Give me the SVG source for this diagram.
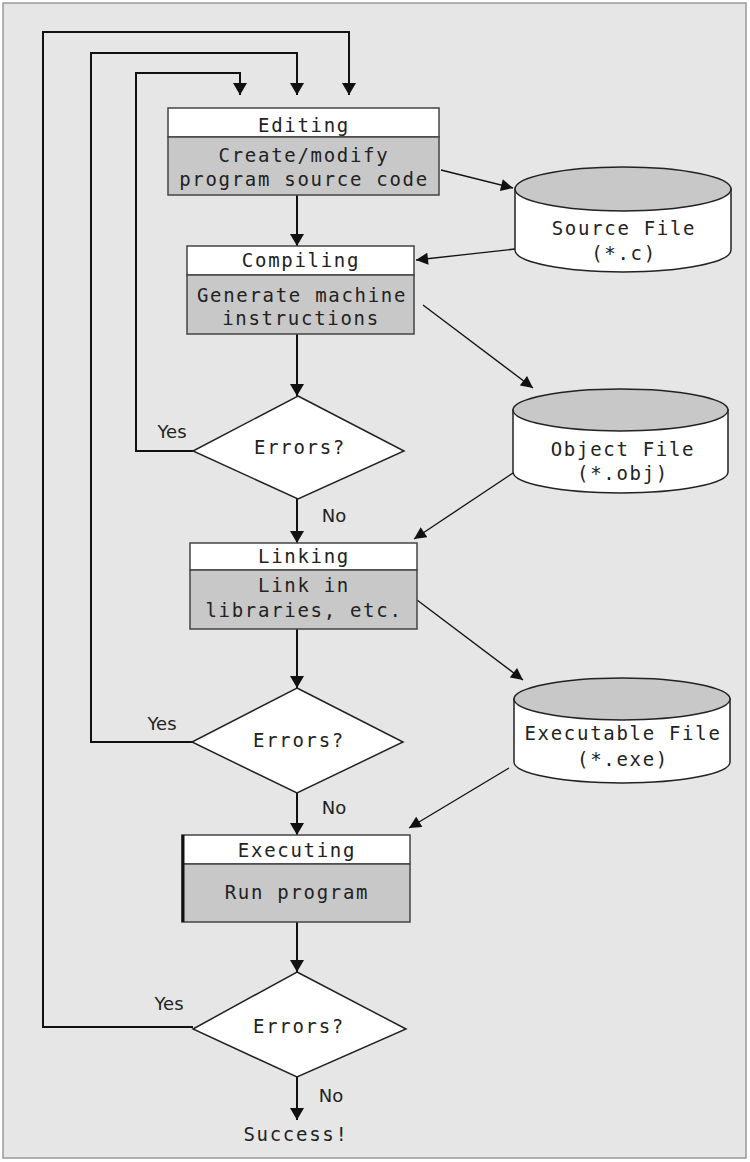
<svg xmlns="http://www.w3.org/2000/svg" width="750" height="1162" viewBox="0 0 750 1162">
<style>
.t{font-family:"DejaVu Sans Mono","Liberation Mono",monospace;font-size:19px;fill:#222;text-anchor:middle;letter-spacing:1.7px}
.lb{font-family:"DejaVu Sans","Liberation Sans",sans-serif;font-size:18px;fill:#222;text-anchor:middle}
.hd{fill:#fff;stroke:#444;stroke-width:1.5}
.bd{fill:#c8c8c8;stroke:#444;stroke-width:1.5}
.dm{fill:#fff;stroke:#222;stroke-width:1.5}
.cb{fill:#fff;stroke:#222;stroke-width:1.5}
.ct{fill:#c8c8c8;stroke:#222;stroke-width:1.5}
.fl{fill:none;stroke:#111;stroke-width:2}
.dg{fill:none;stroke:#111;stroke-width:1.3}
</style>
<defs>
<marker id="ah" viewBox="0 0 12 14" refX="12" refY="7" markerWidth="12" markerHeight="14" markerUnits="userSpaceOnUse" orient="auto"><path d="M0,0 L12,7 L0,14 z" fill="#111"/></marker>
<marker id="as" viewBox="0 0 12 12" refX="12" refY="6" markerWidth="13" markerHeight="12" markerUnits="userSpaceOnUse" orient="auto"><path d="M0,0 L12,6 L0,12 z" fill="#111"/></marker>
</defs>
<rect x="3" y="3" width="743" height="1155" fill="#e6e6e6" stroke="#999" stroke-width="1.5"/>

<g id="connectors">
<path class="fl" d="M193,1027 H43 V32 H349 V95" marker-end="url(#ah)"/>
<path class="fl" d="M192,742 H91 V53 H297 V95" marker-end="url(#ah)"/>
<path class="fl" d="M193,451 H136 V73 H240 V95" marker-end="url(#ah)"/>
<path class="fl" d="M297,195 V246" marker-end="url(#ah)"/>
<path class="fl" d="M297,334 V396" marker-end="url(#ah)"/>
<path class="fl" d="M297,499 V543" marker-end="url(#ah)"/>
<path class="fl" d="M297,629 V688" marker-end="url(#ah)"/>
<path class="fl" d="M297,793 V835" marker-end="url(#ah)"/>
<path class="fl" d="M297,922 V972" marker-end="url(#ah)"/>
<path class="fl" d="M297,1077 V1120" marker-end="url(#ah)"/>
<path class="dg" d="M441,170 L513,188" marker-end="url(#as)"/>
<path class="dg" d="M515,249 L416,260" marker-end="url(#as)"/>
<path class="dg" d="M423,305 L533,388" marker-end="url(#as)"/>
<path class="dg" d="M513,473 L414,539" marker-end="url(#as)"/>
<path class="dg" d="M417,600 L523,680" marker-end="url(#as)"/>
<path class="dg" d="M509,768 L409,828" marker-end="url(#as)"/>
<text class="lb" x="172" y="438">Yes</text>
<text class="lb" x="334" y="522">No</text>
<text class="lb" x="162" y="730">Yes</text>
<text class="lb" x="334" y="814">No</text>
<text class="lb" x="169" y="1010">Yes</text>
<text class="lb" x="331" y="1102">No</text>
</g>

<g id="editing">
<rect class="hd" x="168" y="108" width="271" height="29"/>
<rect class="bd" x="168" y="137" width="271" height="58"/>
<text class="t" x="304" y="132">Editing</text>
<text class="t" x="304" y="162">Create/modify</text>
<text class="t" x="304" y="186">program source code</text>
</g>

<g id="compiling">
<rect class="hd" x="187" y="246" width="227" height="29"/>
<rect class="bd" x="187" y="275" width="227" height="59"/>
<text class="t" x="301" y="267">Compiling</text>
<text class="t" x="302" y="302">Generate machine</text>
<text class="t" x="301" y="325">instructions</text>
</g>

<g id="decision1">
<polygon class="dm" points="298,396 404,451 298,499 193,451"/>
<text class="t" x="300" y="454">Errors?</text>
</g>

<g id="linking">
<rect class="hd" x="190" y="543" width="227" height="27"/>
<rect class="bd" x="190" y="570" width="227" height="59"/>
<text class="t" x="304" y="563">Linking</text>
<text class="t" x="304" y="592">Link in</text>
<text class="t" x="304" y="617">libraries, etc.</text>
</g>

<g id="decision2">
<polygon class="dm" points="297,688 403,742 297,793 192,742"/>
<text class="t" x="299" y="747">Errors?</text>
</g>

<g id="executing">
<rect class="hd" x="182" y="835" width="228" height="29"/>
<rect class="bd" x="182" y="864" width="228" height="58"/>
<line x1="183" y1="835" x2="183" y2="922" stroke="#111" stroke-width="3"/>
<text class="t" x="297" y="857">Executing</text>
<text class="t" x="297" y="899">Run program</text>
</g>

<g id="decision3">
<polygon class="dm" points="297,972 406,1029 297,1077 193,1029"/>
<text class="t" x="299" y="1033">Errors?</text>
</g>

<g id="success">
<text class="t" x="296" y="1141">Success!</text>
</g>

<g id="sourcefile">
<path class="cb" d="M515,189 V250 A108,22 0 0 0 731,250 V189 Z"/>
<ellipse class="ct" cx="623" cy="189" rx="108" ry="22"/>
<text class="t" x="624" y="235">Source File</text>
<text class="t" x="624" y="260">(*.c)</text>
</g>

<g id="objectfile">
<path class="cb" d="M513,410 V472 A107.5,21 0 0 0 728,472 V410 Z"/>
<ellipse class="ct" cx="620.5" cy="410" rx="107.5" ry="21"/>
<text class="t" x="623" y="456">Object File</text>
<text class="t" x="623" y="480">(*.obj)</text>
</g>

<g id="executablefile">
<path class="cb" d="M514,699 V762 A108,21 0 0 0 730,762 V699 Z"/>
<ellipse class="ct" cx="622" cy="699" rx="108" ry="21"/>
<text class="t" x="623" y="740">Executable File</text>
<text class="t" x="623" y="766">(*.exe)</text>
</g>
</svg>
